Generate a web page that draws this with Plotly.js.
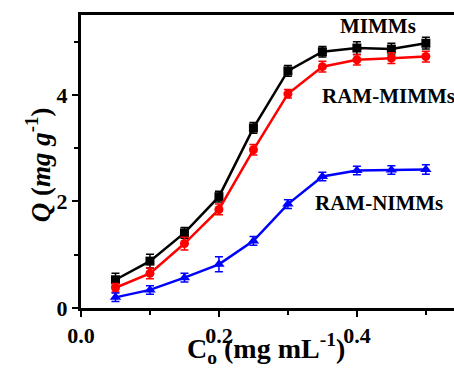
<!DOCTYPE html>
<html>
<head>
<meta charset="utf-8">
<script src="https://cdn.plot.ly/plotly-3.0.1.min.js"></script>
<style>
html,body{margin:0;padding:0;overflow:hidden;background:#fff;width:454px;height:375px;}
#chart{width:470px;height:375px;}
</style>
</head>
<body>
<div id="chart"></div>
<script>
const conc = [0.05, 0.10, 0.15, 0.20, 0.25, 0.30, 0.35, 0.40, 0.45, 0.50];
const mimms = [0.53, 0.88, 1.41, 2.09, 3.38, 4.45, 4.81, 4.88, 4.86, 4.97];
const mimmsErr = [0.12, 0.13, 0.10, 0.10, 0.10, 0.10, 0.10, 0.12, 0.11, 0.11];
const ramMimms = [0.38, 0.65, 1.21, 1.85, 2.97, 4.02, 4.53, 4.66, 4.69, 4.72];
const ramMimmsErr = [0.08, 0.10, 0.12, 0.10, 0.10, 0.08, 0.10, 0.10, 0.10, 0.10];
const ramNimms = [0.20, 0.34, 0.57, 0.82, 1.26, 1.95, 2.47, 2.58, 2.59, 2.60];
const ramNimmsErr = [0.08, 0.08, 0.08, 0.14, 0.08, 0.08, 0.08, 0.08, 0.08, 0.09];
const labels = ['MIMMs', 'RAM-MIMMs', 'RAM-NIMMs'];
const xTicks = [0.0, 0.2, 0.4];
const xTickText = ['0.0', '0.2', '0.4'];
const yTicks = [0, 2, 4];
const yTickText = ['0', '2', '4'];
const xTitle = '<b>C<sub>o</sub> (mg mL<sup>-1</sup>)</b>';
const yTitle = '<b><i>Q</i> (<i>mg g</i><sup>-1</sup>)</b>';

const font = 'Liberation Serif';

function series(y, err, color, symbol, name, size) {
  return {
    x: conc, y: y, name: name, type: 'scatter', mode: 'lines+markers',
    line: {color: color, width: 2.5},
    marker: {color: color, symbol: symbol, size: size},
    error_y: {type: 'data', array: err, visible: true, color: color, thickness: 1.5, width: 4}
  };
}

const data = [
  series(mimms, mimmsErr, '#000000', 'square', labels[0], 9),
  series(ramMimms, ramMimmsErr, '#ff0000', 'circle', labels[1], 9),
  series(ramNimms, ramNimmsErr, '#0000ff', 'triangle-up', labels[2], 10)
];

const tickFont = {family: font, size: 22, color: '#000', weight: 700};
const labelFont = {family: font, size: 21, color: '#000', weight: 700};
const bold = a => a.map(t => '<b>' + t + '</b>');

const layout = {
  width: 470, height: 375,
  margin: {l: 81, r: 0, t: 15, b: 67},
  paper_bgcolor: '#fff', plot_bgcolor: '#fff',
  showlegend: false,
  font: {family: font, color: '#000'},
  xaxis: {
    range: [0, 0.564],
    tickmode: 'array', tickvals: xTicks, ticktext: bold(xTickText),
    ticks: 'outside', ticklen: 6, tickwidth: 2, tickcolor: '#000',
    minor: {dtick: 0.1, tick0: 0, ticks: 'outside', ticklen: 4, tickwidth: 2, tickcolor: '#000'},
    showline: true, linewidth: 3, linecolor: '#000', mirror: true,
    showgrid: false, zeroline: false,
    tickfont: tickFont
  },
  yaxis: {
    range: [0, 5.5],
    tickmode: 'array', tickvals: yTicks, ticktext: bold(yTickText),
    ticks: 'outside', ticklen: 6, tickwidth: 2, tickcolor: '#000',
    minor: {dtick: 1, tick0: 0, ticks: 'outside', ticklen: 4, tickwidth: 2, tickcolor: '#000'},
    showline: true, linewidth: 3, linecolor: '#000', mirror: true,
    showgrid: false, zeroline: false,
    tickfont: tickFont
  },
  annotations: [
    {x: 0.476, y: -0.137, xref: 'paper', yref: 'paper', text: xTitle, showarrow: false, xanchor: 'center', yanchor: 'middle', font: {family: font, size: 28, color: '#000', weight: 700}},
    {x: -0.11, y: 0.488, xref: 'paper', yref: 'paper', text: yTitle, textangle: -90, showarrow: false, xanchor: 'center', yanchor: 'middle', font: {family: font, size: 27, color: '#000', weight: 700}},
    {x: 0.43, y: 5.3, xref: 'x', yref: 'y', text: '<b>' + labels[0] + '</b>', showarrow: false, xanchor: 'center', yanchor: 'middle', font: labelFont},
    {x: 0.346, y: 3.98, xref: 'x', yref: 'y', text: '<b>' + labels[1] + '</b>', showarrow: false, xanchor: 'left', yanchor: 'middle', font: labelFont},
    {x: 0.336, y: 1.97, xref: 'x', yref: 'y', text: '<b>' + labels[2] + '</b>', showarrow: false, xanchor: 'left', yanchor: 'middle', font: labelFont}
  ]
};

Plotly.newPlot('chart', data, layout, {staticPlot: true, displayModeBar: false});
</script>
</body>
</html>
